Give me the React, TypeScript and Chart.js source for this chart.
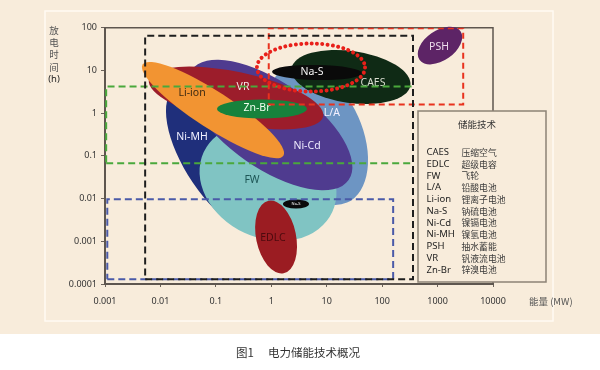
import React, { useEffect, useRef } from 'react';
import { Chart, registerables } from 'chart.js';
Chart.register(...registerables);

// ---- axes ----
const xTickValues = [0.001, 0.01, 0.1, 1, 10, 100, 1000, 10000];
const xTickLabels = ['0.001', '0.01', '0.1', '1', '10', '100', '1000', '10000'];
const yTickValues = [0.0001, 0.001, 0.01, 0.1, 1, 10, 100];
const yTickLabels = ['0.0001', '0.001', '0.01', '0.1', '1', '10', '100'];

// ---- technology regions (power MW, discharge time h) ----
const techNames = ['L/A', 'Ni-MH', 'FW', 'Ni-Cd', 'VR', 'Li-ion', 'Zn-Br', 'CAES', 'Na-S', 'PSH', 'EDLC', 'Na-S'];
const centerPower = [6.68, 0.152, 0.873, 0.949, 0.231, 0.0887, 0.679, 27.4, 6.68, 1106, 1.22, 2.79];
const centerHours = [0.308, 0.08, 0.0244, 0.527, 2.26, 1.18, 1.25, 7.02, 8.94, 38.3, 0.00126, 0.00746];
const tipPower = [23.3, 1.21, 12.6, 24.8, 8.61, 1.65, 4.41, 323, 43.3, 2594, 1.67, 4.79];
const tipHours = [0.00805, 0.0015, 0.00485, 0.0271, 0.834, 0.101, 1.25, 4.46, 8.56, 82.8, 0.000179, 0.00746];
const widthRatio = [0.61, 0.45, 0.79, 0.448, 0.292, 0.22, 0.21, 0.433, 0.167, 0.6, 0.54, 0.35];
const labelPower = [12.4, 0.0372, 0.449, 4.41, 0.309, 0.0372, 0.552, 68.4, 5.42, 1062, 1.07, 2.79];
const labelHours = [1.0, 0.276, 0.0272, 0.17, 4.09, 2.96, 1.32, 5.08, 9.18, 35.3, 0.00119, 0.00746];

// ---- dashed boxes ----
const boxX0 = [0.0053, 0.9, 0.00105, 0.0011];
const boxX1 = [360, 2900, 360, 158];
const boxY0 = [0.00013, 1.6, 0.067, 0.00013];
const boxY1 = [65, 97, 4.2, 0.0096];

// ---- dotted ring (Na-S highlight) ----
const ringCenter = [5.2, 11.7];
const ringTip = [49.1, 11.7];
const ringRatio = 0.444;

// ---- legend ----
const legendAbbr = ['CAES', 'EDLC', 'FW', 'L/A', 'Li-ion', 'Na-S', 'Ni-Cd', 'Ni-MH', 'PSH', 'VR', 'Zn-Br'];
const legendCn = ['压缩空气', '超级电容', '飞轮', '铅酸电池', '锂离子电池', '钠硫电池', '镍镉电池', '镍氢电池', '抽水蓄能', '钒液流电池', '锌溴电池'];

// ---- styles ----
const fillColors = ['#6d95c3', '#1f2f7b', '#80c4c3', '#4f3b8f', '#9c1d2b', '#f29432', '#17823c', '#0f2a15', '#0a0a0a', '#5d2466', '#9b1c22', '#0a0a0a'];
const labelColors = ['#f4f0ff', '#f0f0ff', '#1d5656', '#f0ecff', '#f6e6e6', '#3d2a12', '#f0fff0', '#d8dccf', '#f4f4f4', '#ecdcec', '#4d0a0e', '#ffffff'];
const labelSizes = [10.5, 10.5, 10.5, 10.5, 10.5, 10.5, 10.5, 10.5, 10.5, 10.5, 10.5, 4];
const boxColors = ['#1e1e1e', '#e8321e', '#4aa83c', '#4a5aa8'];
const boxDashes = [[7, 4], [6, 4], [7, 4], [7, 4]];

const BG = '#f8ecdb';
const SANS = "'Noto Sans', 'Open Sans', sans-serif";
const CJK = "'Noto Sans CJK SC', sans-serif";

const plugin = {
  id: 'storageDraw',
  beforeDraw(chart: any) {
    const ctx = chart.ctx;
    ctx.save();
    ctx.fillStyle = '#ffffff';
    ctx.fillRect(0, 0, chart.width, chart.height);
    ctx.fillStyle = BG;
    ctx.fillRect(0, 0, chart.width, 334);
    ctx.strokeStyle = '#fffaf3';
    ctx.lineWidth = 1.5;
    ctx.strokeRect(45, 11, 508, 310);
    ctx.restore();
  },
  beforeDatasetsDraw(chart: any) {
    const ctx = chart.ctx;
    const xs = chart.scales.x;
    const ys = chart.scales.y;
    const area = chart.chartArea;
    ctx.save();
    ctx.strokeStyle = '#5e564f';
    ctx.lineWidth = 1.5;
    ctx.beginPath();
    ctx.moveTo(area.left, area.top);
    ctx.lineTo(area.right, area.top);
    ctx.lineTo(area.right, area.bottom);
    ctx.stroke();
    for (let i = 0; i < techNames.length; i++) {
      const cx = xs.getPixelForValue(centerPower[i]);
      const cy = ys.getPixelForValue(centerHours[i]);
      const tx = xs.getPixelForValue(tipPower[i]);
      const ty = ys.getPixelForValue(tipHours[i]);
      const a = Math.hypot(tx - cx, ty - cy);
      const ang = Math.atan2(ty - cy, tx - cx);
      ctx.beginPath();
      ctx.ellipse(cx, cy, a, a * widthRatio[i], ang, 0, Math.PI * 2);
      ctx.fillStyle = fillColors[i];
      ctx.fill();
    }
    ctx.textAlign = 'center';
    ctx.textBaseline = 'middle';
    for (let i = 0; i < techNames.length; i++) {
      ctx.font = `${labelSizes[i]}px ${SANS}`;
      ctx.fillStyle = labelColors[i];
      ctx.fillText(techNames[i], xs.getPixelForValue(labelPower[i]), ys.getPixelForValue(labelHours[i]));
    }
    ctx.restore();
  },
  afterDatasetsDraw(chart: any) {
    const ctx = chart.ctx;
    const xs = chart.scales.x;
    const ys = chart.scales.y;
    const cx = xs.getPixelForValue(ringCenter[0]);
    const cy = ys.getPixelForValue(ringCenter[1]);
    const tx = xs.getPixelForValue(ringTip[0]);
    const ty = ys.getPixelForValue(ringTip[1]);
    const a = Math.hypot(tx - cx, ty - cy);
    const ang = Math.atan2(ty - cy, tx - cx);
    ctx.save();
    ctx.strokeStyle = '#e8201a';
    ctx.lineWidth = 4;
    ctx.lineCap = 'round';
    ctx.setLineDash([0.01, 5.3]);
    ctx.beginPath();
    ctx.ellipse(cx, cy, a, a * ringRatio, ang, 0, Math.PI * 2);
    ctx.stroke();
    ctx.restore();
  },
  afterDraw(chart: any) {
    const ctx = chart.ctx;
    ctx.save();
    ctx.fillStyle = BG;
    ctx.fillRect(418, 111, 128, 171);
    ctx.strokeStyle = '#8c8276';
    ctx.lineWidth = 1.5;
    ctx.strokeRect(418, 111, 128, 171);
    ctx.fillStyle = '#333';
    ctx.textBaseline = 'middle';
    ctx.textAlign = 'center';
    ctx.font = `9.5px ${CJK}`;
    ctx.fillText('储能技术', 477, 124);
    ctx.textAlign = 'left';
    for (let i = 0; i < legendAbbr.length; i++) {
      const y = 152.5 + i * 11.75;
      ctx.fillStyle = '#1e1e1e';
      ctx.font = `9.5px ${SANS}`;
      ctx.fillText(legendAbbr[i], 426.5, y);
      ctx.fillStyle = '#3a3a3a';
      ctx.font = `8.8px ${CJK}`;
      ctx.fillText(legendCn[i], 461.5, y);
    }
    ctx.textAlign = 'center';
    ctx.fillStyle = '#555';
    ctx.font = `9.5px ${CJK}`;
    const yt = ['放', '电', '时', '间'];
    yt.forEach((c, i) => ctx.fillText(c, 54, 30 + i * 12.3));
    ctx.fillStyle = '#222';
    ctx.font = `9.5px ${SANS}`;
    ctx.fillText('(h)', 54, 79.5);
    ctx.textAlign = 'left';
    ctx.fillStyle = '#555';
    ctx.font = `9.5px ${CJK}`;
    ctx.fillText('能量 (MW)', 529, 301);
    ctx.fillStyle = '#333';
    ctx.font = `11.5px ${CJK}`;
    ctx.fillText('图1', 236, 353);
    ctx.fillText('电力储能技术概况', 268, 353);
    ctx.restore();
  },
};

export default function App() {
  const ref = useRef<HTMLCanvasElement>(null);
  useEffect(() => {
    document.body.style.margin = '0';
    document.body.style.background = '#ffffff';
    const datasets = boxX0.map((x0, i) => ({
      label: 'box' + i,
      data: [
        { x: x0, y: boxY0[i] },
        { x: boxX1[i], y: boxY0[i] },
        { x: boxX1[i], y: boxY1[i] },
        { x: x0, y: boxY1[i] },
        { x: x0, y: boxY0[i] },
      ],
      showLine: true,
      borderColor: boxColors[i],
      borderWidth: 2,
      borderDash: boxDashes[i],
      pointRadius: 0,
      tension: 0,
      fill: false,
    }));
    const chart = new Chart(ref.current as HTMLCanvasElement, {
      type: 'scatter',
      data: { datasets },
      options: {
        responsive: false,
        animation: false,
        devicePixelRatio: 1,
        layout: { padding: { top: 27.7, left: 0, right: 107, bottom: 56 } },
        plugins: { legend: { display: false }, tooltip: { enabled: false } },
        scales: {
          x: {
            type: 'logarithmic',
            min: 0.001,
            max: 10000,
            afterBuildTicks: (s: any) => { s.ticks = xTickValues.map((v) => ({ value: v })); },
            afterFit: (s: any) => { s.height = 30; },
            ticks: {
              autoSkip: false,
              maxRotation: 0,
              padding: 9,
              color: '#333',
              font: { family: SANS, size: 9 },
              callback: (_v: any, i: number) => xTickLabels[i],
            },
            grid: { display: true, drawOnChartArea: false, drawTicks: true, tickLength: 3, color: '#6b625a' },
            border: { display: true, color: '#5e564f', width: 2 },
          },
          y: {
            type: 'logarithmic',
            min: 0.0001,
            max: 100,
            afterBuildTicks: (s: any) => { s.ticks = yTickValues.map((v) => ({ value: v })); },
            afterFit: (s: any) => { s.width = 105; },
            ticks: {
              autoSkip: false,
              padding: 4,
              color: '#333',
              font: { family: SANS, size: 9 },
              callback: (_v: any, i: number) => yTickLabels[i],
            },
            grid: { display: true, drawOnChartArea: false, drawTicks: true, tickLength: 4, color: '#6b625a' },
            border: { display: true, color: '#5e564f', width: 2 },
          },
        },
      },
      plugins: [plugin],
    });
    return () => chart.destroy();
  }, []);
  return (
    <div style={{ width: 600, height: 370 }}>
      <canvas ref={ref} width={600} height={370} style={{ display: 'block', width: 600, height: 370 }} />
    </div>
  );
}
